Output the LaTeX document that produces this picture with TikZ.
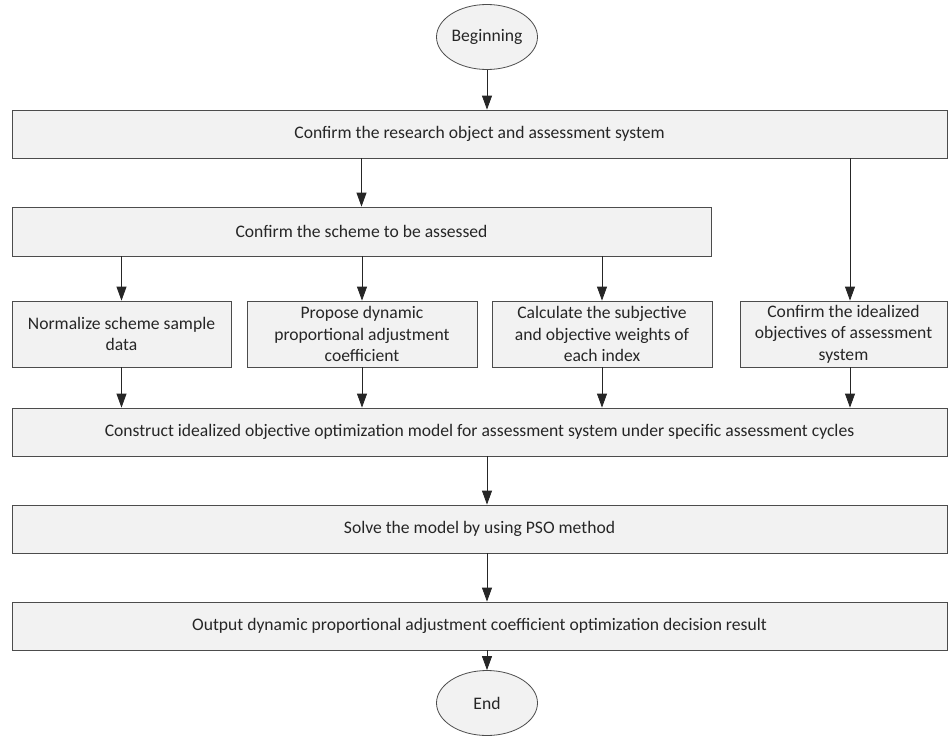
\documentclass[tikz,border=0pt]{standalone}
\usepackage{fontspec}
\setmainfont{Carlito}
\usetikzlibrary{shapes,arrows.meta}

\begin{document}
\begin{tikzpicture}[x=1pt,y=-1pt,
    every node/.style={font=\fontsize{17.6}{21.5}\selectfont, text=black!85},
    stepbox/.style={rectangle,draw=black!70,fill=black!5,line width=0.8pt,align=center,inner sep=0pt},
    endpoint/.style={ellipse,draw=black!70,fill=black!5,line width=0.8pt,minimum width=101pt,minimum height=65pt,inner sep=0pt},
    flow/.style={draw=black!85,line width=0.8pt,-{Triangle[length=14pt,width=10pt]}}]
                \useasboundingbox (0,0) rectangle (951,736);

                \node[endpoint] (begin) at (487,37) {Beginning};
                \node[stepbox,minimum width=935pt,minimum height=48pt] (object) at (479.5,134) {Confirm the research object and assessment system};
                \node[stepbox,minimum width=699pt,minimum height=49pt] (scheme) at (361.5,231.5) {Confirm the scheme to be assessed};

                \node[stepbox,minimum width=219pt,minimum height=66pt] (normalize) at (121.5,334) {Normalize scheme sample\\data};
                \node[stepbox,minimum width=230pt,minimum height=66pt] (propose) at (362,334) {Propose dynamic\\proportional adjustment\\coefficient};
                \node[stepbox,minimum width=220pt,minimum height=66pt] (weights) at (602,334) {Calculate the subjective\\and objective weights of\\each index};
                \node[stepbox,minimum width=207pt,minimum height=66pt] (idealized) at (843.5,334) {Confirm the idealized\\objectives of assessment\\system};
                \coordinate (idealx) at (850,334);

                \node[stepbox,minimum width=935pt,minimum height=48pt] (model) at (479.5,432) {Construct idealized objective optimization model for assessment system under specific assessment cycles};
                \node[stepbox,minimum width=935pt,minimum height=48pt] (solve) at (479.5,529) {Solve the model by using PSO method};
                \node[stepbox,minimum width=935pt,minimum height=48pt] (output) at (479.5,626) {Output dynamic proportional adjustment coefficient optimization decision result};
                \node[endpoint] (end) at (487,703) {End};

                \path[flow] (begin) -- (begin |- object.north);
                \path[flow] (scheme.north |- object.south) -- (scheme.north);
                \path[flow] (idealx |- object.south) -- (idealx |- idealized.north);
                \path[flow] (normalize.north |- scheme.south) -- (normalize.north);
                \path[flow] (propose.north |- scheme.south) -- (propose.north);
                \path[flow] (weights.north |- scheme.south) -- (weights.north);

                \path[flow] (normalize.south) -- (normalize.south |- model.north);
                \path[flow] (propose.south) -- (propose.south |- model.north);
                \path[flow] (weights.south) -- (weights.south |- model.north);
                \path[flow] (idealx |- idealized.south) -- (idealx |- model.north);

                \path[flow] (begin |- model.south) -- (begin |- solve.north);
                \path[flow] (begin |- solve.south) -- (begin |- output.north);
                \path[flow] (begin |- output.south) -- (end);
            \end{tikzpicture}
\end{document}
